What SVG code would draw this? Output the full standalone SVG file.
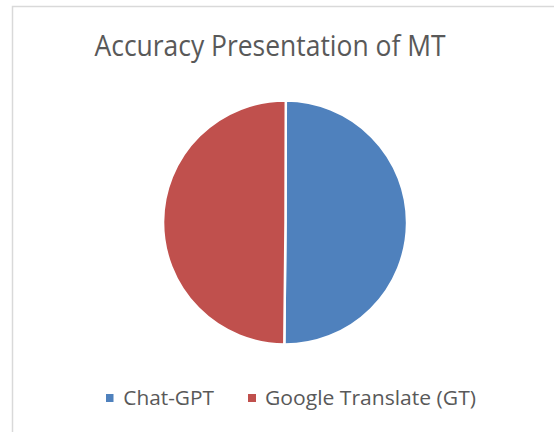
<svg xmlns="http://www.w3.org/2000/svg" width="554" height="432" viewBox="0 0 554 432">
<style>
.t{font-family:"Open Sans","Liberation Sans",sans-serif;fill:#595959}
.sl{stroke:#fff;stroke-width:2.5;stroke-linejoin:round}
</style>
<rect x="0" y="0" width="554" height="432" fill="#fff"/>
<path d="M12.5 432 V6.5 H554" fill="none" stroke="#d9d9d9" stroke-width="1.5"/>
<g id="title"><text class="t" x="270" y="56" font-size="30" text-anchor="middle" textLength="351" lengthAdjust="spacingAndGlyphs">Accuracy Presentation of MT</text></g>
<g id="pie">
<g id="slice-chatgpt"><path class="sl" d="M285.5 222.5 L285.8 100.5 A122 122 0 1 1 284.3 344.5 Z" fill="#4F81BD"/></g>
<g id="slice-gt"><path class="sl" d="M285.5 222.5 L284.3 344.5 A122 122 0 0 1 285.8 100.5 Z" fill="#C0504D"/></g>
</g>
<g id="connectors"></g>
<g id="legend">
<g id="legend-chatgpt"><rect x="106" y="394" width="7.5" height="8" fill="#4F81BD"/><text class="t" x="123.3" y="405" font-size="20" textLength="90.7" lengthAdjust="spacingAndGlyphs">Chat-GPT</text></g>
<g id="legend-gt"><rect x="248" y="394" width="8" height="8" fill="#C0504D"/><text class="t" x="265" y="405" font-size="20" textLength="211" lengthAdjust="spacingAndGlyphs">Google Translate (GT)</text></g>
</g>
</svg>
